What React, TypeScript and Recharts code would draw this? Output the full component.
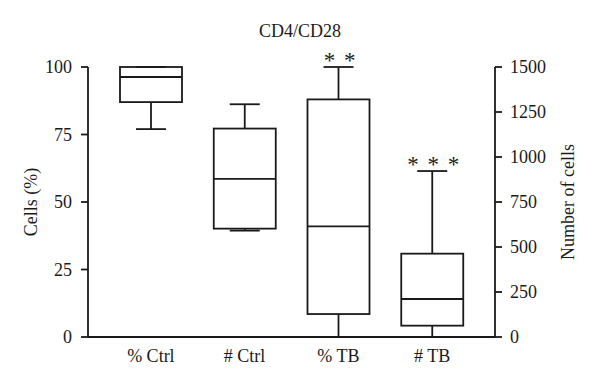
import { Bar, ComposedChart, XAxis, YAxis } from "recharts";

const categories = ["% Ctrl", "# Ctrl", "% TB", "# TB"];
// "pct" boxes are read on the left axis, "num" boxes on the right one
const axisOf = ["pct", "num", "pct", "num"];
const whiskerLow = [77, 591, 0, 0];
const q1 = [87, 602, 8.5, 63];
const median = [96.3, 878, 41, 211];
const q3 = [100, 1158, 88, 463];
const whiskerHigh = [100, 1293, 100, 922];
const stars = ["", "", "* *", "* * *"];
const pctTicks = [0, 25, 50, 75, 100];
const numTicks = [0, 250, 500, 750, 1000, 1250, 1500];

const data = categories.map((name, i) => ({
  name,
  axis: axisOf[i],
  low: whiskerLow[i],
  q1: q1[i],
  median: median[i],
  q3: q3[i],
  high: whiskerHigh[i],
  stars: stars[i],
  pct: axisOf[i] === "pct" ? [whiskerLow[i], whiskerHigh[i]] : null,
  num: axisOf[i] === "num" ? [whiskerLow[i], whiskerHigh[i]] : null,
}));

const INK = "#1a1a1a";
const SW = 1.8;

function BoxShape(props: any) {
  const { x, y, width, height, payload, axis } = props;
  if (!payload || payload.axis !== axis || !height) return null;
  const k = height / (payload.high - payload.low);
  const py = (v: number) => y + (payload.high - v) * k;
  const cx = x + width / 2;
  const cap = 15;
  return (
    <g stroke={INK} strokeWidth={SW} fill="none">
      <line x1={cx} x2={cx} y1={py(payload.high)} y2={py(payload.q3)} />
      <line x1={cx} x2={cx} y1={py(payload.q1)} y2={py(payload.low)} />
      <line x1={cx - cap} x2={cx + cap} y1={py(payload.high)} y2={py(payload.high)} />
      <line x1={cx - cap} x2={cx + cap} y1={py(payload.low)} y2={py(payload.low)} />
      <rect x={x} y={py(payload.q3)} width={width} height={py(payload.q1) - py(payload.q3)} />
      <line x1={x} x2={x + width} y1={py(payload.median)} y2={py(payload.median)} />
      {payload.stars && (
        <text
          x={cx + 1}
          y={py(payload.high) + 1}
          textAnchor="middle"
          stroke="none"
          fill={INK}
          fontSize={23}
          style={{ wordSpacing: 3 }}
        >
          {payload.stars}
        </text>
      )}
    </g>
  );
}

const tick = { fill: INK, fontSize: 18 };

export default function App() {
  return (
    <div style={{ position: "relative", width: 600, height: 385, margin: -8, fontFamily: "'Liberation Serif', serif", background: "#fff" }}>
      <div style={{ position: "absolute", top: 22, left: 0, width: 600, textAlign: "center", fontSize: 18, lineHeight: "18px", color: INK }}>
        CD4/CD28
      </div>
      <ComposedChart width={600} height={385} data={data} margin={{ top: 67, right: 25, bottom: 18, left: 28 }}>
        <XAxis
          xAxisId="a"
          dataKey="name"
          padding={{ left: 16, right: 16 }}
          tickLine={false}
          axisLine={{ stroke: INK, strokeWidth: SW }}
          tick={tick}
          tickMargin={6}
          height={30}
        />
        <XAxis xAxisId="b" dataKey="name" padding={{ left: 16, right: 16 }} hide />
        <YAxis
          yAxisId="left"
          width={60}
          domain={[0, 100]}
          ticks={pctTicks}
          tickSize={7}
          tickMargin={9}
          tick={tick}
          tickLine={{ stroke: INK, strokeWidth: SW }}
          axisLine={{ stroke: INK, strokeWidth: SW }}
          label={{ value: "Cells (%)", angle: -90, position: "insideLeft", offset: 3, style: { textAnchor: "middle", fill: INK, fontSize: 18 } }}
        />
        <YAxis
          yAxisId="right"
          orientation="right"
          width={80}
          domain={[0, 1500]}
          ticks={numTicks}
          tickSize={7}
          tickMargin={8}
          tick={tick}
          tickLine={{ stroke: INK, strokeWidth: SW }}
          axisLine={{ stroke: INK, strokeWidth: SW }}
          label={{ value: "Number of cells", angle: -90, position: "insideRight", offset: 7, style: { textAnchor: "middle", fill: INK, fontSize: 18 } }}
        />
        <Bar
          xAxisId="a"
          yAxisId="left"
          dataKey="pct"
          barSize={62}
          isAnimationActive={false}
          shape={(p: any) => <BoxShape {...p} axis="pct" />}
        />
        <Bar
          xAxisId="b"
          yAxisId="right"
          dataKey="num"
          barSize={62}
          isAnimationActive={false}
          shape={(p: any) => <BoxShape {...p} axis="num" />}
        />
      </ComposedChart>
    </div>
  );
}
